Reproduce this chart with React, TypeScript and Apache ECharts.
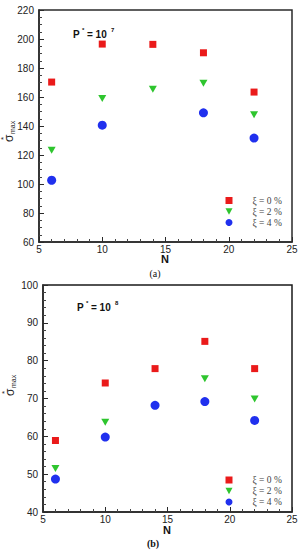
import React, { useEffect, useRef } from "react";
import * as echarts from "echarts";

const nValues = [6, 10, 14, 18, 22];
const seriesNames = ["ξ = 0 %", "ξ = 2 %", "ξ = 4 %"];
const topXi0 = [170.3, 196.5, 196.3, 190.5, 163.4];
const topXi2 = [123.3, 159, 165.4, 169.4, 147.7];
const topXi4 = [102.6, 140.6, null, 149.1, 131.7];
const botXi0 = [58.9, 74.1, 77.9, 85.1, 77.9];
const botXi2 = [51.5, 63.7, null, 75.2, 69.9];
const botXi4 = [48.7, 59.8, 68.2, 69.2, 64.2];

const RED = "#ea1a1a";
const GREEN = "#2ec52e";
const BLUE = "#2030ee";
const TRI = "path://M0,0L10,0L5,9Z";
const SANS = "'Liberation Sans', Arial, sans-serif";
const SERIF = "'Liberation Serif', 'Times New Roman', serif";

const symbols = [
  { symbol: "rect", size: [7, 7], color: RED, icon: "rect" },
  { symbol: TRI, size: [8, 7], color: GREEN, icon: TRI },
  { symbol: "circle", size: 9, color: BLUE, icon: "circle" },
];

function pairs(vals: (number | null)[]) {
  return nValues.map((n, i) => [n, vals[i] === null ? "-" : vals[i]]);
}

function xAxisCfg(gridIndex: number) {
  return {
    type: "value",
    gridIndex,
    min: 5,
    max: 25,
    interval: 5,
    axisLine: { show: true, onZero: false, lineStyle: { color: "#2a2a2a", width: 1.5 } },
    axisTick: { show: true, inside: true, length: 5, lineStyle: { color: "#2a2a2a" } },
    minorTick: { show: true, splitNumber: 5, length: 3, lineStyle: { color: "#444" } },
    splitLine: { show: false },
    axisLabel: { fontSize: 10, color: "#222", fontFamily: SANS, margin: 2 },
  };
}

function yAxisCfg(gridIndex: number, min: number, max: number, interval: number, minorSplit: number) {
  return {
    type: "value",
    gridIndex,
    min,
    max,
    interval,
    axisLine: { show: true, onZero: false, lineStyle: { color: "#2a2a2a", width: 1.5 } },
    axisTick: { show: true, inside: true, length: 5, lineStyle: { color: "#2a2a2a" } },
    minorTick: { show: true, splitNumber: minorSplit, length: 3, lineStyle: { color: "#444" } },
    splitLine: { show: false },
    axisLabel: { fontSize: 10, color: "#222", fontFamily: SANS, margin: 5 },
  };
}

function makeSeries(gridIndex: number, lists: (number | null)[][]) {
  return lists.map((vals, k) => ({
    type: "scatter",
    name: seriesNames[k],
    xAxisIndex: gridIndex,
    yAxisIndex: gridIndex,
    symbol: symbols[k].symbol,
    symbolSize: symbols[k].size,
    itemStyle: { color: symbols[k].color, opacity: 1 },
    data: pairs(vals),
  }));
}

function legendCfg(top: number) {
  return {
    orient: "vertical",
    left: 225.5,
    top,
    padding: 0,
    itemWidth: 7,
    itemHeight: 7,
    itemGap: 1,
    selectedMode: false,
    data: seriesNames.map((name, k) => ({ name, icon: symbols[k].icon })),
    textStyle: {
      fontFamily: SERIF,
      fontSize: 9.5,
      color: "#444",
      lineHeight: 10,
      padding: [0, 0, 0, 15],
    },
  };
}

function yLabel(x: number, y: number) {
  return {
    type: "group",
    x,
    y,
    rotation: Math.PI / 2,
    children: [
      { type: "text", x: 0, y: 0, style: { text: "σ", font: `12px ${SANS}`, fill: "#222", verticalAlign: "middle" } },
      { type: "text", x: 2, y: -6, style: { text: "*", font: `8px ${SANS}`, fill: "#222", verticalAlign: "middle" } },
      { type: "text", x: 8, y: 3, style: { text: "max", font: `7px ${SANS}`, fill: "#222", verticalAlign: "middle" } },
    ],
  };
}

function pLabel(x: number, y: number, exp: string) {
  const b = `bold 10px ${SANS}`;
  const s = `bold 6px ${SANS}`;
  return {
    type: "group",
    x,
    y,
    children: [
      { type: "text", x: 0, y: 0, style: { text: "P", font: b, fill: "#111", verticalAlign: "middle" } },
      { type: "text", x: 9, y: -4, style: { text: "*", font: s, fill: "#111", verticalAlign: "middle" } },
      { type: "text", x: 14, y: 0, style: { text: "= 10", font: b, fill: "#111", verticalAlign: "middle" } },
      { type: "text", x: 38, y: -4, style: { text: exp, font: s, fill: "#111", verticalAlign: "middle" } },
    ],
  };
}

function centerText(x: number, y: number, text: string, font: string) {
  return {
    type: "text",
    x,
    y,
    style: { text, font, fill: "#111", align: "center", verticalAlign: "middle" },
  };
}

export default function App() {
  const ref = useRef<HTMLDivElement>(null);
  useEffect(() => {
    if (!ref.current) return;
    const chart = echarts.init(ref.current, undefined, { renderer: "svg" });
    chart.setOption({
      animation: false,
      backgroundColor: "#ffffff",
      grid: [
        { left: 39, top: 10, width: 253, height: 232, show: true, borderColor: "#2a2a2a", borderWidth: 1.5 },
        { left: 43, top: 285, width: 249, height: 227, show: true, borderColor: "#1a1a1a", borderWidth: 1.5 },
      ],
      xAxis: [xAxisCfg(0), xAxisCfg(1)],
      yAxis: [yAxisCfg(0, 60, 220, 20, 4), yAxisCfg(1, 40, 100, 10, 5)],
      legend: [legendCfg(195.5), legendCfg(475)],
      series: [
        ...makeSeries(0, [topXi0, topXi2, topXi4]),
        ...makeSeries(1, [botXi0, botXi2, botXi4]),
      ],
      graphic: [
        yLabel(9, 142),
        yLabel(10, 396),
        pLabel(73, 34, "7"),
        pLabel(77, 307, "8"),
        centerText(165, 259, "N", `bold 11px ${SANS}`),
        centerText(155, 273, "(a)", `10px ${SERIF}`),
        centerText(167, 530, "N", `bold 11px ${SANS}`),
        centerText(153, 543, "(b)", `bold 10px ${SERIF}`),
      ],
    });
    return () => chart.dispose();
  }, []);
  return (
    <div
      ref={ref}
      style={{ position: "absolute", left: 0, top: 0, width: 301, height: 550 }}
    />
  );
}
